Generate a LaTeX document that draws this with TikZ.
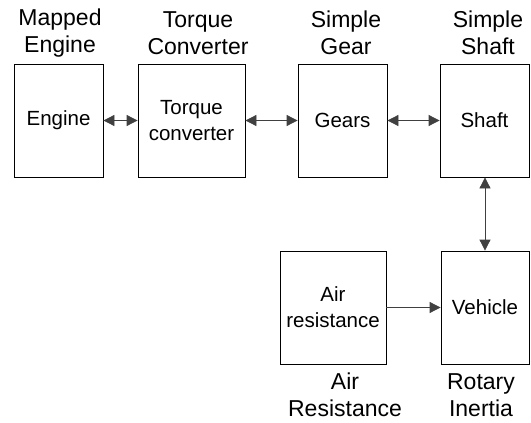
\documentclass[tikz,border=0pt]{standalone}
\usepackage{fontspec}
\setmainfont{Liberation Sans}
\usetikzlibrary{arrows.meta}
\begin{document}
\begin{tikzpicture}[x=1pt, y=-1pt, >={Triangle[length=11pt,width=11pt]}, line width=0.8pt,
    blk/.style={draw, minimum width=89pt, minimum height=113pt, align=center,
      inner sep=0pt, font=\fontsize{20.5}{26}\selectfont},
    lbl/.style={align=center, font=\fontsize{23}{27.5}\selectfont}]
    \useasboundingbox (0,0) rectangle (531,423);
    % Top row
    \node[blk] (engine) at (58.5,120.5) {Engine};
    \node[blk, minimum width=107pt] (conv) at (191.5,120.5) {Torque\\converter};
    \node[blk] (gears) at (342.5,120.5) {Gears};
    \node[blk] (shaft) at (484.5,120.5) {Shaft};
    % Bottom row
    \node[blk, minimum width=106pt] (air) at (333,307.5) {Air\\resistance};
    \node[blk, minimum width=88pt] (vehicle) at (485,307.5) {Vehicle};

    % Block names
    \node[lbl] (engname) at (60,33) {Mapped\\Engine};
    \node[lbl] (convname) at (198,33) {Torque\\Converter};
    \node[lbl] (gearname) at (346,33) {Simple\\Gear};
    \node[lbl] (shaftname) at (488,33) {Simple\\Shaft};
    \node[lbl] (airname) at (345,395) {Air\\Resistance};
    \node[lbl] (vehname) at (481,395) {Rotary\\Inertia};

    % Connections
    \draw[<->, black!75] (engine) -- (conv);
    \draw[<->, black!75] (conv) -- (gears);
    \draw[<->, black!75] (gears) -- (shaft);
    \draw[<->, black!75] (shaft.south -| vehicle.north) -- (vehicle.north);
    \draw[->, black!75] (air) -- (vehicle);
\end{tikzpicture}
\end{document}
